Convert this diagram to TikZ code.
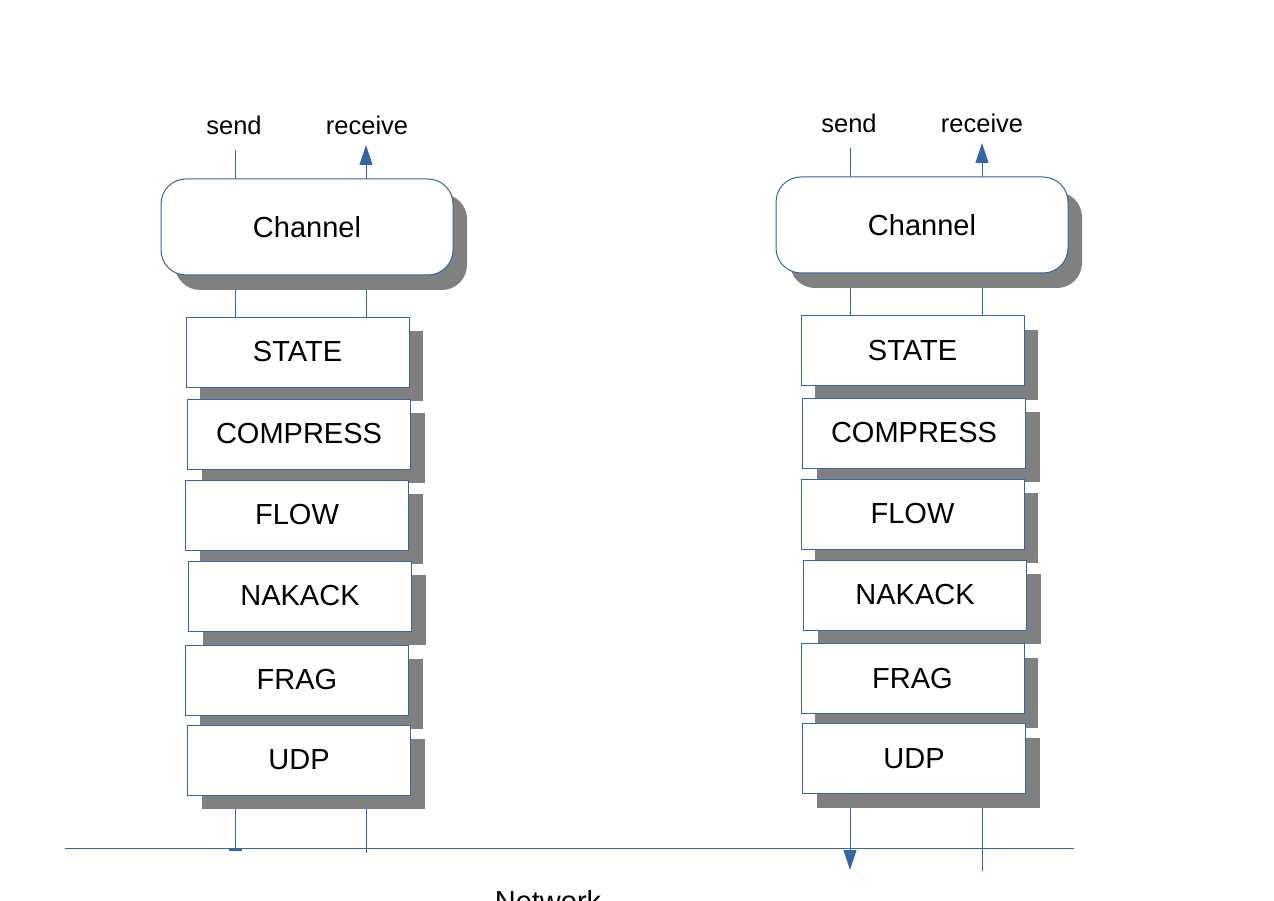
\documentclass[tikz,border=0pt]{standalone}
\usepackage{fontspec}
\setmainfont{Liberation Sans}
\usetikzlibrary{shapes,arrows.meta,shadows,positioning}
\definecolor{linkblue}{HTML}{3465A4}
\definecolor{shadowgray}{HTML}{808080}
\tikzstyle{channel} = [draw=linkblue, line width=1pt, fill=white, rectangle, rounded corners=25pt, minimum width=292pt, minimum height=96pt, inner sep=0pt, font=\fontsize{29}{34}\selectfont, drop shadow={shadow xshift=14pt, shadow yshift=-15pt, fill=shadowgray, opacity=1}]
\tikzstyle{layer} = [draw=linkblue, line width=1pt, fill=white, rectangle, minimum width=223pt, minimum height=70pt, inner sep=0pt, font=\fontsize{29}{34}\selectfont, drop shadow={shadow xshift=14pt, shadow yshift=-14pt, fill=shadowgray, opacity=1}]
\tikzstyle{port} = [inner sep=0pt, font=\fontsize{25.5}{30}\selectfont]
\tikzstyle{wire} = [draw=linkblue, line width=1pt]
\tikzstyle{tip} = [-{Triangle[width=13pt,length=20pt]}]
\pgfdeclarelayer{background}
\pgfsetlayers{background,main}

\begin{document}
\begin{tikzpicture}[x=1pt, y=-1pt]
    \useasboundingbox (0,0) rectangle (1274,901);

    % Place nodes: left stack
    \node [channel] (chanL) at (307,227) {Channel};
    \node [port, anchor=base] (sendL) at (234,135) {send};
    \node [port, anchor=base] (recvL) at (367,135) {receive};
    \node [layer, below of=chanL, node distance=125pt, xshift=-9.5pt] (stateL) {STATE};
    \node [layer, below of=stateL, node distance=82pt, xshift=1.5pt] (compressL) {COMPRESS};
    \node [layer, below of=compressL, node distance=81pt, xshift=-2pt] (flowL) {FLOW};
    \node [layer, below of=flowL, node distance=81pt, xshift=3pt] (nakackL) {NAKACK};
    \node [layer, below of=nakackL, node distance=84pt, xshift=-3pt] (fragL) {FRAG};
    \node [layer, below of=fragL, node distance=80pt, xshift=2pt] (udpL) {UDP};

    % Place nodes: right stack
    \node [channel] (chanR) at (922,225) {Channel};
    \node [port, anchor=base] (sendR) at (849,133) {send};
    \node [port, anchor=base] (recvR) at (982,133) {receive};
    \node [layer, below of=chanR, node distance=125.5pt, xshift=-9.5pt] (stateR) {STATE};
    \node [layer, below of=stateR, node distance=82.5pt, xshift=1.5pt] (compressR) {COMPRESS};
    \node [layer, below of=compressR, node distance=81pt, xshift=-1.5pt] (flowR) {FLOW};
    \node [layer, below of=flowR, node distance=81pt, xshift=2.5pt] (nakackR) {NAKACK};
    \node [layer, below of=nakackR, node distance=83.5pt, xshift=-2.5pt] (fragR) {FRAG};
    \node [layer, below of=fragR, node distance=80pt, xshift=1.5pt] (udpR) {UDP};

    % Network
    \coordinate (netW) at (65,848);
    \coordinate (netE) at (1074,848);
    \node [port, font=\fontsize{29}{34}\selectfont, anchor=base] (network) at (548,911) {Network};
    \coordinate (sendL-end) at (235,851);
    \coordinate (recvL-end) at (366,853);
    \coordinate (sendR-end) at (850,870);
    \coordinate (recvR-end) at (982,871);

    % Draw edges behind the blocks and their shadows
    \begin{pgfonlayer}{background}
        \path [wire, shorten <=15pt] (sendL.base -| sendL-end) -- (chanL.center -| sendL-end);
        \path [wire, tip, shorten >=10pt] (chanL.center -| recvL-end) -- (recvL.base -| recvL-end);
        \path [wire] (chanL.center -| sendL-end) -- (stateL.center -| sendL-end);
        \path [wire] (chanL.center -| recvL-end) -- (stateL.center -| recvL-end);
        \path [wire, -{Bar[width=13pt,line width=2pt]}] (udpL.center -| sendL-end) -- (sendL-end);
        \path [wire] (udpL.center -| recvL-end) -- (recvL-end);

        \path [wire, shorten <=15pt] (sendR.base -| sendR-end) -- (chanR.center -| sendR-end);
        \path [wire, tip, shorten >=10pt] (chanR.center -| recvR-end) -- (recvR.base -| recvR-end);
        \path [wire] (chanR.center -| sendR-end) -- (stateR.center -| sendR-end);
        \path [wire] (chanR.center -| recvR-end) -- (stateR.center -| recvR-end);
        \path [wire, tip] (udpR.center -| sendR-end) -- (sendR-end);
        \path [wire] (udpR.center -| recvR-end) -- (recvR-end);

        \path [wire] (netW) -- (netE);
    \end{pgfonlayer}
\end{tikzpicture}
\end{document}
